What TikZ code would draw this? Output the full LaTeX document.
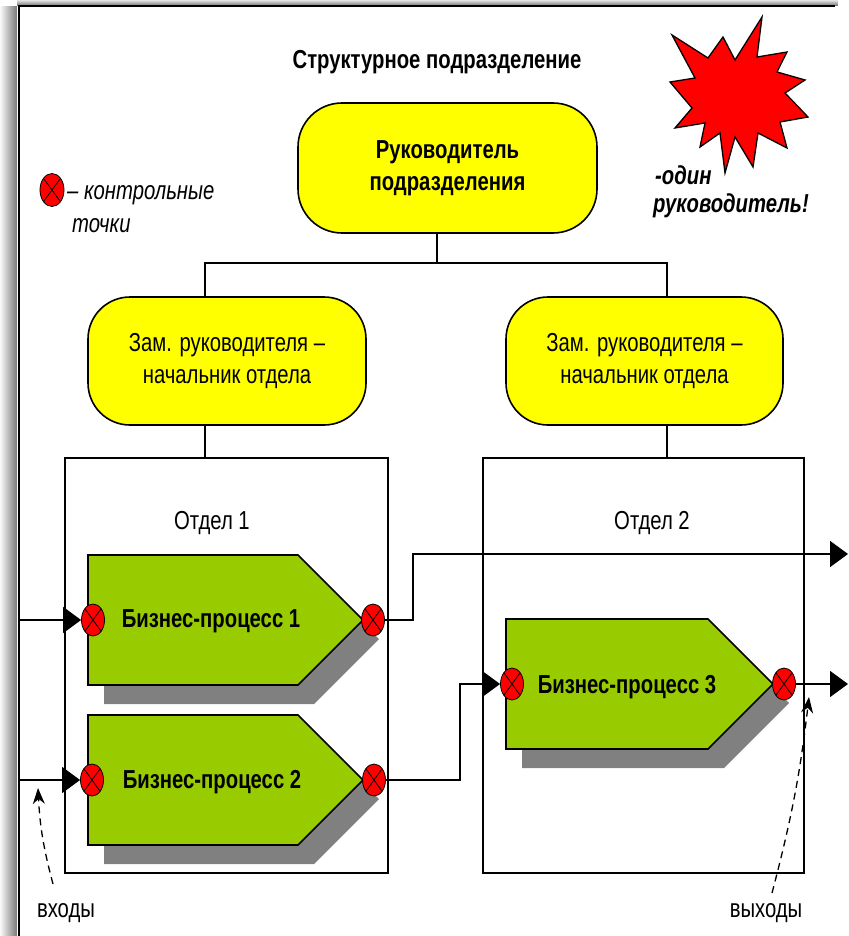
\documentclass[tikz,border=0pt]{standalone}
\usepackage{fontspec}
\setmainfont{Liberation Sans}[FakeStretch=0.78]
\usetikzlibrary{shapes.geometric,arrows.meta,calc}
\definecolor{bpgreen}{HTML}{99CC00}
\definecolor{shgray}{HTML}{808080}
\definecolor{yel}{HTML}{FFFF00}
\begin{document}
\begin{tikzpicture}[x=1pt,y=-1pt,
  ln/.style={line width=1.6pt, black},
  arr/.style={ln, -{Triangle[length=18pt,width=26pt]}},
  annot/.style={line width=1.3pt, dash pattern=on 7pt off 5pt, -{Stealth[length=16pt,width=12pt]}},
  yelnode/.style={draw, line width=1.6pt, fill=yel, rounded corners=44pt, align=center, inner sep=0pt},
  cpt/.style={ellipse, draw, line width=0.8pt, fill=red, minimum width=23pt, minimum height=32pt, inner sep=0pt,
    path picture={\draw[line width=0.8pt] (path picture bounding box.north west) -- (path picture bounding box.south east)
      (path picture bounding box.south west) -- (path picture bounding box.north east);}},
  dept/.style={draw, line width=1.6pt, inner sep=0pt},
  txt/.style={font=\fontsize{26}{32}\selectfont, inner sep=0pt, align=center},
  btxt/.style={font=\fontsize{26}{32}\selectfont\bfseries, inner sep=0pt, align=center},
  bpbody/.style={line width=1.6pt, draw=black, fill=bpgreen},
  bpshadow/.style={fill=shgray}
]
\useasboundingbox (0,0) rectangle (848,936);
% frame shadow
\foreach \i in {0,...,16} {\pgfmathsetmacro\g{int(2+3*\i)}\fill[black!\g] (\i,6) rectangle (\i+1.05,936);}
\foreach \j in {0,...,5} {\pgfmathsetmacro\g{int(10+8*\j)}\fill[black!\g] (17,\j) rectangle (838,\j+1.05);}
\draw[line width=2pt] (19,936) -- (19,6) -- (835,6);

% title
\node[btxt] (title) at (437,62) {Структурное подразделение};

% top node and deputies
\node[yelnode, btxt, minimum width=299pt, minimum height=130pt] (top) at (447.5,168) {Руководитель\\подразделения};
\node[yelnode, txt, minimum width=278pt, minimum height=128pt, rounded corners=42pt] (z1) at (227,361) {Зам. руководителя –\\начальник отдела};
\node[yelnode, txt, minimum width=277pt, minimum height=128pt, rounded corners=42pt] (z2) at (644.5,361) {Зам. руководителя –\\начальник отдела};

% departments
\node[dept, minimum width=323pt, minimum height=415pt] (d1) at (226.5,665.5) {};
\node[dept, minimum width=321pt, minimum height=415pt] (d2) at (643.5,665.5) {};
\node[txt] (d1l) at (212,523) {Отдел 1};
\node[txt] (d2l) at (652,523) {Отдел 2};

% org connectors
\coordinate (jn) at (437,263);
\draw[ln] ([xshift=-10.5pt]top.south) -- (jn);
\draw[ln] (jn) -| ([xshift=-22pt]z1.north);
\draw[ln] (jn) -| ([xshift=22.5pt]z2.north);
\draw[ln] ([xshift=-22pt]z1.south) -- ([xshift=-22pt]z1.south |- d1.north);
\draw[ln] ([xshift=22.5pt]z2.south) -- ([xshift=22.5pt]z2.south |- d2.north);

% business processes
\fill[bpshadow] (104,574) -- (314,574) -- (379,639) -- (314,704) -- (104,704) -- cycle;
\draw[bpbody] (88,555) -- (298,555) -- (363,620) -- (298,685) -- (88,685) -- cycle;
\node[btxt] (bp1) at (211,621) {Бизнес-процесс 1};

\fill[bpshadow] (104,734) -- (314,734) -- (379,799) -- (314,864) -- (104,864) -- cycle;
\draw[bpbody] (88,715) -- (298,715) -- (363,780) -- (298,845) -- (88,845) -- cycle;
\node[btxt] (bp2) at (212,782) {Бизнес-процесс 2};

\fill[bpshadow] (522,638) -- (724,638) -- (789,703) -- (724,768) -- (522,768) -- cycle;
\draw[bpbody] (506,619) -- (708,619) -- (773,684) -- (708,749) -- (506,749) -- cycle;
\node[btxt] (bp3) at (627,687) {Бизнес-процесс 3};

% control points
\node[cpt] (c1in) at (93,620) {};
\node[cpt] (c1out) at (373,620) {};
\node[cpt] (c2in) at (92,780) {};
\node[cpt] (c2out) at (374,780) {};
\node[cpt] (c3in) at (512,684) {};
\node[cpt] (c3out) at (784,684) {};

% flows
\coordinate (in1) at (19,620);
\coordinate (in2) at (19,780);
\coordinate (o1) at (848,554);
\coordinate (o3) at (848,684);
\coordinate (b1) at (413,0);
\coordinate (b2) at (460,0);
\draw[arr] (in1) -- (c1in.west);
\draw[arr] (in2) -- (c2in.west);
\draw[arr] (c1out.east) -| (b1 |- o1) -- (o1);
\draw[arr] (c2out.east) -| (b2 |- c3in) -- (c3in.west);
\draw[arr] (c3out.east) -- (o3);

% annotations
\node[txt] (vh) at (66,913) {входы};
\node[txt] (vyh) at (766,913) {выходы};
\coordinate (vhs) at (53,884);
\coordinate (vht) at (38,788);
\coordinate (vys) at (772,893);
\coordinate (vyt) at (809,697);
\draw[annot] (vhs) to[bend left=6] (vht);
\draw[annot] (vys) to[bend right=4] (vyt);

% legend
\node[cpt, minimum width=24pt, minimum height=33pt] (leg) at (52,190) {};
\node[txt, anchor=west, font=\fontsize{26}{32}\selectfont\itshape] (legt1) at (67,195) {– контрольные};
\node[txt, anchor=west, font=\fontsize{26}{32}\selectfont\itshape] (legt2) at (72,226) {точки};

% starburst
\draw[fill=red, line width=1.3pt, line join=miter]
  (762,17) -- (757,57) -- (787,52) -- (777,72) -- (805,80) -- (785,93) -- (808,117) -- (780,122)
  -- (787,148) -- (758,133) -- (753,167) -- (735,137) -- (725,173) -- (720,133) -- (700,147)
  -- (705,123) -- (675,128) -- (692,108) -- (670,82) -- (695,78) -- (672,35) -- (708,58)
  -- (723,37) -- (735,60) -- cycle;
\node[txt, anchor=west, font=\fontsize{26}{32}\selectfont\bfseries\itshape] (st1) at (655,175) {-один};
\node[txt, anchor=west, font=\fontsize{26}{32}\selectfont\bfseries\itshape] (st2) at (653,206) {руководитель!};
\end{tikzpicture}
\end{document}
